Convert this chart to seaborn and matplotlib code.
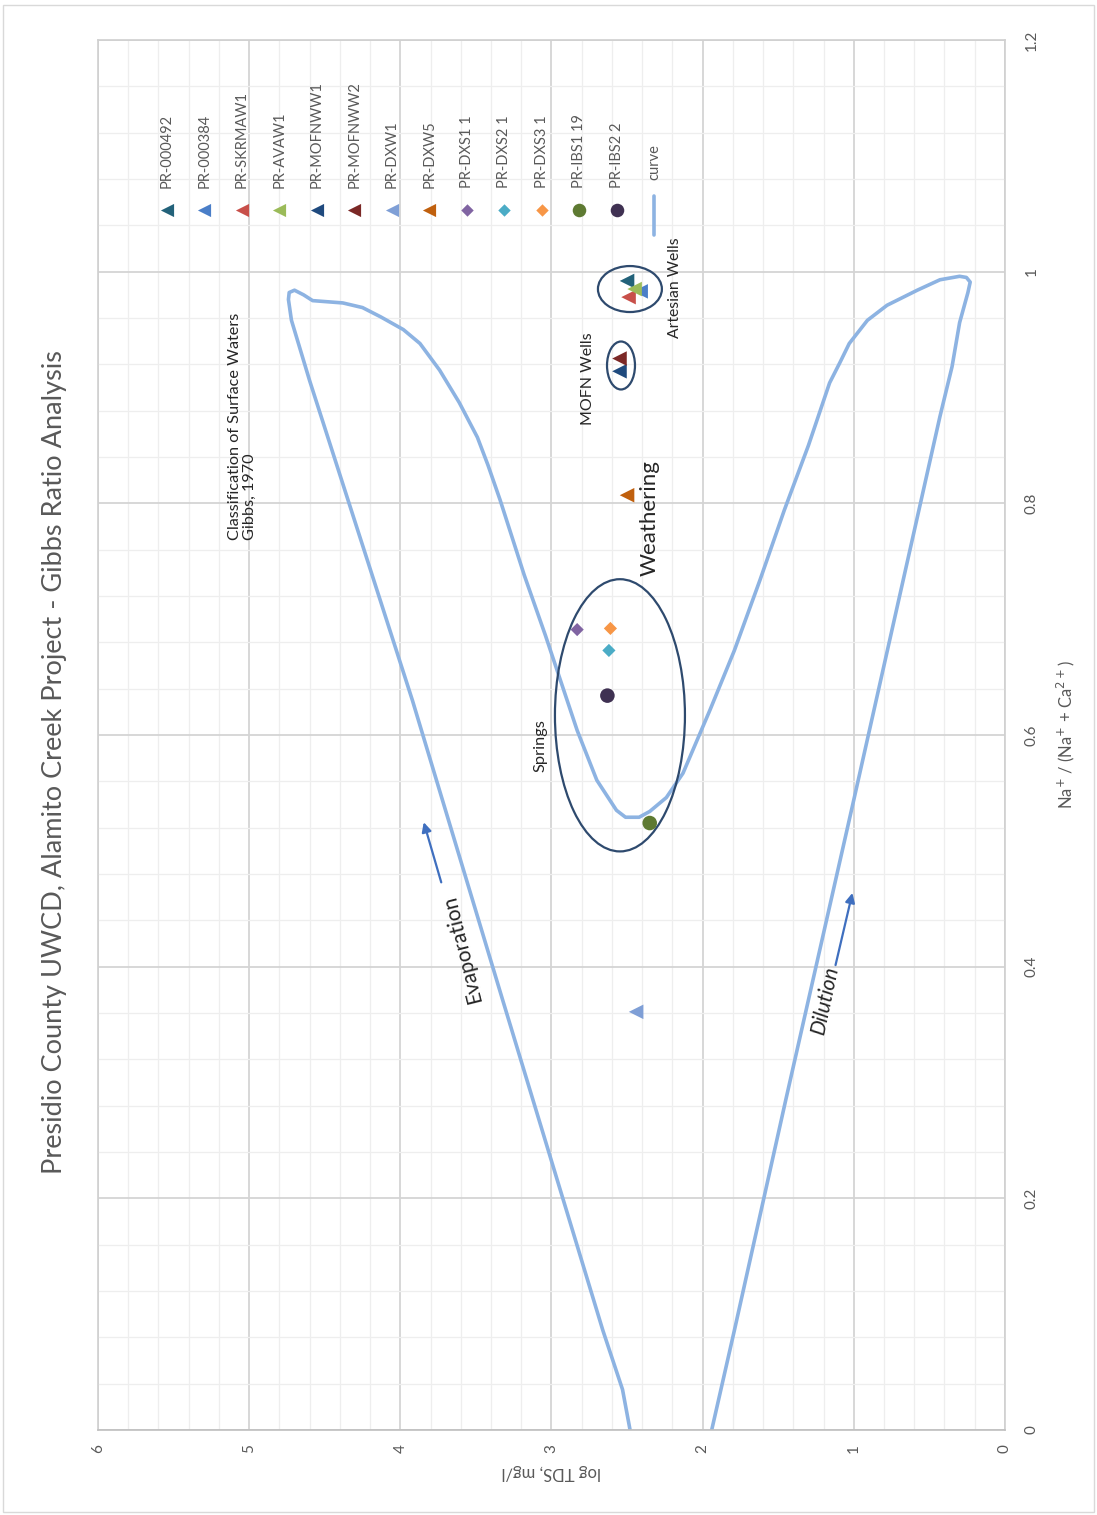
import numpy as np
import pandas as pd
import matplotlib
matplotlib.use("Agg")
import matplotlib.pyplot as plt
from matplotlib.patches import Ellipse, Rectangle
from matplotlib.ticker import MultipleLocator
import seaborn as sns

# ---- sample data: log TDS (mg/l) and Na/(Na+Ca) ratio ----
samples = ["PR-000492", "PR-000384", "PR-SKRMAW1", "PR-AVAW1", "PR-MOFNWW1",
           "PR-MOFNWW2", "PR-DXW1", "PR-DXW5", "PR-DXS1 1", "PR-DXS2 1",
           "PR-DXS3 1", "PR-IBS1 19", "PR-IBS2 2"]
log_tds = [2.50, 2.41, 2.49, 2.45, 2.55, 2.55, 2.44, 2.50, 2.83, 2.62, 2.61, 2.35, 2.63]
na_ratio = [0.992, 0.983, 0.978, 0.985, 0.914, 0.925, 0.361, 0.807, 0.691, 0.673, 0.692, 0.524, 0.634]
colors = ["#23627A", "#4A7EC8", "#C8504A", "#9BBB59", "#1F4A7E", "#7B2826",
          "#7F9FD6", "#C0600E", "#8064A2", "#4BACC6", "#F79646", "#5E7A32", "#3F3152"]
markers = ["<"] * 8 + ["D"] * 3 + ["o"] * 2

# ---- Gibbs (1970) boundary curve ----
curve_tds = [2.48, 2.53, 2.66, 3.32, 3.92, 4.60, 4.72, 4.74, 4.735, 4.70, 4.64, 4.58,
             4.38, 4.25, 4.13, 3.98, 3.87, 3.74, 3.61, 3.49, 3.42, 3.34, 3.18, 3.04,
             2.94, 2.83, 2.70, 2.57, 2.51, 2.42, 2.35, 2.24, 2.13, 1.95, 1.79, 1.62,
             1.46, 1.30, 1.16, 1.09, 1.03, 0.91, 0.78, 0.58, 0.43, 0.30, 0.255, 0.23,
             0.245, 0.30, 0.35, 0.43, 1.00, 1.45, 1.79, 1.94]
curve_ratio = [0.0, 0.035, 0.086, 0.37, 0.63, 0.906, 0.958, 0.976, 0.982, 0.984,
               0.980, 0.975, 0.973, 0.969, 0.961, 0.950, 0.938, 0.915, 0.887, 0.857,
               0.833, 0.803, 0.738, 0.686, 0.647, 0.604, 0.561, 0.535, 0.529, 0.529,
               0.534, 0.546, 0.567, 0.622, 0.673, 0.734, 0.794, 0.850, 0.904, 0.922,
               0.938, 0.958, 0.971, 0.984, 0.993, 0.996, 0.995, 0.991, 0.982, 0.956,
               0.918, 0.875, 0.544, 0.285, 0.086, 0.0]

pts = pd.DataFrame({"sample": samples, "log_tds": log_tds, "ratio": na_ratio})
crv = pd.DataFrame({"log_tds": curve_tds, "ratio": curve_ratio})

sns.set_theme(style="white")
plt.rcParams["font.family"] = ["Lato", "DejaVu Sans"]
grey = "#595959"
curve_color = "#8DB3E2"

fig = plt.figure(figsize=(10.97, 15.15), dpi=100)
ax = fig.add_axes([0.0893, 0.0561, 0.8268, 0.9175])

# grid
ax.set_xlim(6, 0)
ax.set_ylim(0, 1.2)
ax.xaxis.set_major_locator(MultipleLocator(1))
ax.xaxis.set_minor_locator(MultipleLocator(0.2))
ax.yaxis.set_major_locator(MultipleLocator(0.2))
ax.yaxis.set_minor_locator(MultipleLocator(0.04))
ax.grid(which="major", color="#d4d4d4", lw=1.3, zorder=0)
ax.grid(which="minor", color="#eeeeee", lw=0.9, zorder=0)
ax.set_axisbelow(True)
for s in ax.spines.values():
    s.set_color("#d0d0d0")
    s.set_linewidth(1.2)
ax.spines["bottom"].set_color("#bfbfbf")

# curve
sns.lineplot(data=crv, x="log_tds", y="ratio", sort=False, estimator=None,
             color=curve_color, lw=2.6, ax=ax, zorder=2)

# points
palette = dict(zip(samples, colors))
mk = dict(zip(samples, markers))
for m, size in (("<", 110), ("D", 45), ("o", 110)):
    sub = pts[[mk[s] == m for s in pts["sample"]]]
    sns.scatterplot(data=sub, x="log_tds", y="ratio", hue="sample", palette=palette,
                    marker=m, s=size, linewidth=0, legend=False, ax=ax, zorder=4)

# ticks and labels
ax.yaxis.tick_right()
ax.yaxis.set_label_position("right")
ax.tick_params(axis="both", which="both", length=0, labelsize=11, labelcolor=grey)
ax.tick_params(axis="x", pad=10)
ax.tick_params(axis="y", pad=14)
ax.set_xticks(range(0, 7))
ax.set_xticklabels([str(v) for v in range(0, 7)], rotation=90)
ax.set_yticks(np.arange(0, 1.21, 0.2))
ax.set_yticklabels(["0", "0.2", "0.4", "0.6", "0.8", "1", "1.2"], rotation=90, va="center")
ax.set_xlabel("log TDS, mg/l", rotation=180, fontsize=12, color=grey, labelpad=8)
ax.set_ylabel(r"Na$^{+}$ / (Na$^{+}$ + Ca$^{2+}$)", rotation=90, fontsize=12,
              color=grey, labelpad=12)

# title
fig.text(0.050, 0.497, "Presidio County UWCD, Alamito Creek Project - Gibbs Ratio Analysis",
         rotation=90, ha="center", va="center", fontsize=19.5, color=grey)

# legend
lx0, ldx = 0.0761, 0.04134
for i, (name, c, m) in enumerate(zip(samples, colors, markers)):
    x = lx0 + i * ldx
    ax.scatter([x], [0.8777], transform=ax.transAxes, marker=m, color=c,
               s={"<": 90, "D": 40, "o": 95}[m], linewidth=0, zorder=5, clip_on=False)
    ax.text(x, 0.8935, name, transform=ax.transAxes, rotation=90, ha="center",
            va="bottom", fontsize=10.5, color=grey)
xc = lx0 + len(samples) * ldx
ax.plot([xc, xc], [0.8597, 0.888], transform=ax.transAxes, color=curve_color, lw=2.6)
ax.text(xc, 0.8995, "curve", transform=ax.transAxes, rotation=90, ha="center",
        va="bottom", fontsize=10.5, color=grey)

# annotations
txt = "#262626"
ax.text(5.14, 0.768, "Classification of Surface Waters\nGibbs, 1970", rotation=90,
        rotation_mode="anchor", ha="left", va="top", fontsize=11.7, color=txt,
        linespacing=1.1)
ax.text(2.76, 0.908, "MOFN Wells", rotation=90, ha="center", va="center", fontsize=11.5, color=txt)
ax.text(2.18, 0.986, "Artesian Wells", rotation=90, ha="center", va="center", fontsize=11.3, color=txt)
ax.text(2.35, 0.787, "Weathering", rotation=90, ha="center", va="center", fontsize=16, color=txt)
ax.text(3.07, 0.591, "Springs", rotation=90, ha="center", va="center", fontsize=11.8, color=txt)
ax.text(3.59, 0.415, "Evaporation", rotation=104, ha="center", va="center", fontsize=15, color=txt)
ax.text(1.19, 0.371, "Dilution", rotation=78, ha="center", va="center", fontsize=15,
        color=txt, style="italic")

arrow_kw = dict(arrowstyle="-|>", color="#3F6FBF", lw=1.6, mutation_scale=14)
ax.annotate("", xy=(3.85, 0.527), xytext=(3.724, 0.4705), arrowprops=arrow_kw)
ax.annotate("", xy=(1.005, 0.466), xytext=(1.125, 0.399), arrowprops=arrow_kw)

ell_color = "#2E4A6E"
for (cx, cy, w, h) in [(2.481, 0.985, 0.423, 0.0397),
                       (2.540, 0.919, 0.185, 0.0414),
                       (2.547, 0.617, 0.860, 0.235)]:
    ax.add_patch(Ellipse((cx, cy), w, h, fill=False, ec=ell_color, lw=1.6, zorder=3))

# chart area border
fig.patches.append(Rectangle((0.003, 0.002), 0.994, 0.995, transform=fig.transFigure,
                             fill=False, ec="#d9d9d9", lw=1.0))

fig.savefig("out.png", dpi=100, facecolor="white")
